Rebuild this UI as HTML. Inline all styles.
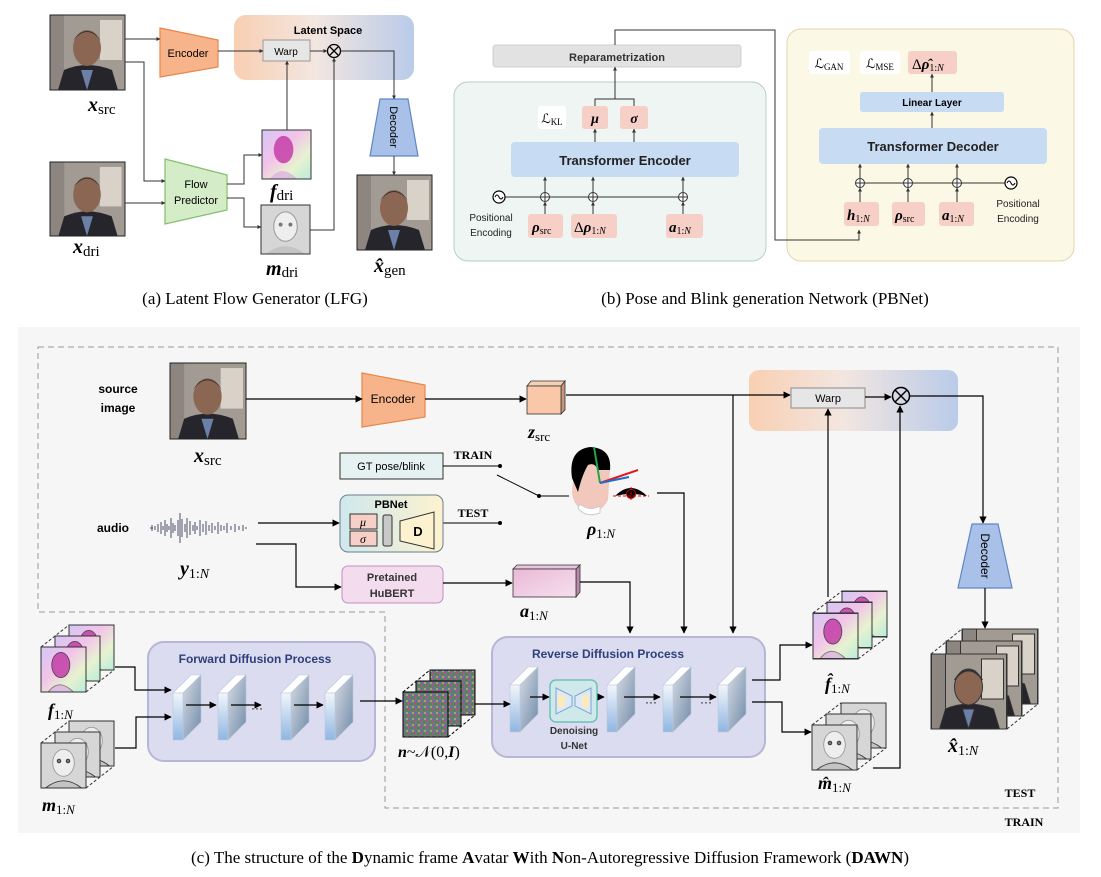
<!DOCTYPE html>
<html><head><meta charset="utf-8"><style>
html,body{margin:0;padding:0;background:#fff}
svg{display:block}
text{font-family:"Liberation Sans",sans-serif}
.s{font-family:"Liberation Serif",serif}
.b{font-weight:bold}
</style></head><body>
<svg width="1101" height="877" viewBox="0 0 1101 877" xmlns="http://www.w3.org/2000/svg">
<defs>
<marker id="a" viewBox="0 0 10 10" refX="9" refY="5" markerWidth="6" markerHeight="6" orient="auto"><path d="M0,0L10,5L0,10z" fill="#000"/></marker>
<marker id="as" viewBox="0 0 10 10" refX="9" refY="5" markerWidth="4" markerHeight="4" orient="auto"><path d="M0,0L10,5L0,10z" fill="#333"/></marker>
<linearGradient id="lat" x1="0" x2="1"><stop offset="0" stop-color="#f8cfb2"/><stop offset=".45" stop-color="#f3e6e0"/><stop offset="1" stop-color="#b9cbe9"/></linearGradient>
<linearGradient id="flow" x1="0" y1="0" x2="1" y2="1"><stop offset="0" stop-color="#d5c6f5"/><stop offset=".4" stop-color="#f2c3ea"/><stop offset=".7" stop-color="#e8f2d0"/><stop offset="1" stop-color="#b8ecd8"/></linearGradient>
<linearGradient id="pb" x1="0" x2="1"><stop offset="0" stop-color="#cfe8ee"/><stop offset="1" stop-color="#fdf2cf"/></linearGradient>
<linearGradient id="slf" x1="0" y1="0" x2="0" y2="1"><stop offset="0" stop-color="#f2f6fb"/><stop offset="1" stop-color="#8fb6e2"/></linearGradient>
<linearGradient id="sls" x1="0" y1="0" x2="1" y2="1"><stop offset="0" stop-color="#d8dce4"/><stop offset="1" stop-color="#6f8aa8"/></linearGradient>
<linearGradient id="acube" x1="0" x2="1" y1="0" y2="1"><stop offset="0" stop-color="#eab8d8"/><stop offset="1" stop-color="#f6e0ee"/></linearGradient>
<pattern id="noise" width="6" height="6" patternUnits="userSpaceOnUse"><rect width="6" height="6" fill="#6f7a6e"/><rect width="2" height="2" fill="#b0508a"/><rect x="3" y="1" width="2" height="2" fill="#3d8a5a"/><rect x="1" y="4" width="2" height="2" fill="#5f6fc0"/><rect x="4" y="4" width="2" height="2" fill="#a8a070"/></pattern>
<symbol id="photo" viewBox="0 0 75 75"><rect width="75" height="75" fill="#a29b93"/><rect x="50" y="5" width="22" height="40" fill="#d8d2c8"/><rect x="0" y="0" width="14" height="75" fill="#8d8680"/><path d="M8,75 L14,55 Q37,45 62,55 L68,75z" fill="#25252b"/><path d="M31,55 L37,75 L43,55z" fill="#6c7fa6"/><ellipse cx="37" cy="33" rx="14" ry="18" fill="#8b6753"/><path d="M23,26 Q37,8 51,26 Q45,16 37,16 Q29,16 23,26z" fill="#3a3431"/></symbol>
<symbol id="flw" viewBox="0 0 50 50"><rect width="50" height="50" fill="url(#flow)"/><ellipse cx="22" cy="20" rx="10" ry="14" fill="#c43ea8" opacity=".85"/><path d="M8,50 Q20,34 36,50z" fill="#d8a0e8" opacity=".6"/></symbol>
<symbol id="msk" viewBox="0 0 50 50"><rect width="50" height="50" fill="#d6d6d6"/><ellipse cx="25" cy="22" rx="12" ry="15" fill="#eee" stroke="#999" stroke-width="1"/><path d="M5,50 Q25,34 45,50z" fill="#c4c4c4"/><circle cx="20" cy="20" r="2" fill="#777"/><circle cx="30" cy="20" r="2" fill="#777"/></symbol>
</defs>

<!-- ================= (a) ================= -->
<rect x="234" y="15" width="180" height="65" rx="12" fill="url(#lat)"/>
<text x="328" y="34" font-size="11" class="b" text-anchor="middle">Latent Space</text>
<use href="#photo" x="50" y="15" width="75" height="75"/><rect x="50" y="15" width="75" height="75" fill="none" stroke="#222"/>
<text x="88" y="111" class="s" font-size="20"><tspan font-style="italic" font-weight="bold">x</tspan><tspan font-size="15" dy="3">src</tspan></text>
<use href="#photo" x="50" y="162" width="75" height="74"/><rect x="50" y="162" width="75" height="74" fill="none" stroke="#222"/>
<text x="73" y="253" class="s" font-size="20"><tspan font-style="italic" font-weight="bold">x</tspan><tspan font-size="15" dy="3">dri</tspan></text>
<use href="#photo" x="357" y="175" width="75" height="75"/><rect x="357" y="175" width="75" height="75" fill="none" stroke="#222"/>
<text x="374" y="272" class="s" font-size="20"><tspan font-style="italic" font-weight="bold">x̂</tspan><tspan font-size="15" dy="3">gen</tspan></text>
<polygon points="160,28 218,40 218,67 160,77" fill="#f7b48a" stroke="#e8864a" stroke-width="1.2"/>
<text x="188" y="57" font-size="11" text-anchor="middle">Encoder</text>
<polygon points="165,159 227,175 227,210 165,224" fill="#d5ecc9" stroke="#84bf6b" stroke-width="1.2"/>
<text x="196" y="188" font-size="11" text-anchor="middle">Flow</text><text x="196" y="204" font-size="11" text-anchor="middle">Predictor</text>
<rect x="263" y="40" width="47" height="21" fill="#e6e6e6" stroke="#999"/>
<text x="286" y="55" font-size="10" text-anchor="middle">Warp</text>
<circle cx="334" cy="51" r="6.5" fill="none" stroke="#000" stroke-width="1.3"/><path d="M329.5,46.5L338.5,55.5M338.5,46.5L329.5,55.5" stroke="#000" stroke-width="1.3"/>
<polygon points="380,99 408,99 418,156 370,156" fill="#a9c1e8" stroke="#5f86c8" stroke-width="1.2"/>
<text x="394" y="127" font-size="11" text-anchor="middle" transform="rotate(90 394 127)" dy="4">Decoder</text>
<use href="#flw" x="262" y="130" width="49" height="49"/><rect x="262" y="130" width="49" height="49" fill="none" stroke="#333"/>
<text x="270" y="198" class="s" font-size="20"><tspan font-style="italic" font-weight="bold">f</tspan><tspan font-size="15" dy="2">dri</tspan></text>
<use href="#msk" x="261" y="205" width="49" height="49"/><rect x="261" y="205" width="49" height="49" fill="none" stroke="#333"/>
<text x="266" y="275" class="s" font-size="20"><tspan font-style="italic" font-weight="bold">m</tspan><tspan font-size="15" dy="2">dri</tspan></text>
<g fill="none" stroke="#333" stroke-width="1" marker-end="url(#as)">
<path d="M125,39H160"/><path d="M125,62H144V181H165"/><path d="M125,203H165"/>
<path d="M218,51H263"/><path d="M310,51H327"/><path d="M340.5,51H394V99"/><path d="M394,156V175"/>
<path d="M227,184H244V155H262"/><path d="M227,198H244V227H261"/>
<path d="M287,130V61"/><path d="M310,230H334V58"/>
</g>
<text x="255" y="304" class="s" font-size="17" text-anchor="middle">(a) Latent Flow Generator (LFG)</text>

<!-- ================= (b) ================= -->
<rect x="454" y="82" width="312" height="179" rx="14" fill="#eef5f3" stroke="#b8cdc8"/>
<rect x="787" y="29" width="287" height="232" rx="14" fill="#fcf8e6" stroke="#e0d6ad"/>
<rect x="493" y="45" width="248" height="22" rx="3" fill="#e2e2e2" stroke="#cfcfcf"/>
<text x="617" y="61" font-size="11" text-anchor="middle" class="b" fill="#333">Reparametrization</text>
<rect x="538" y="106" width="28" height="23" rx="3" fill="#fff"/>
<text x="552" y="123" class="s" font-size="13" text-anchor="middle">ℒ<tspan font-size="9" dy="2">KL</tspan></text>
<rect x="582" y="106" width="26" height="23" rx="3" fill="#f6cfc7"/><text x="595" y="123" class="s" font-size="14" font-weight="bold" font-style="italic" text-anchor="middle">μ</text>
<rect x="620" y="106" width="28" height="23" rx="3" fill="#f6cfc7"/><text x="634" y="123" class="s" font-size="14" font-weight="bold" font-style="italic" text-anchor="middle">σ</text>
<rect x="511" y="142" width="228" height="35" rx="4" fill="#c7dbf2"/>
<text x="625" y="165" font-size="13" class="b" text-anchor="middle" fill="#222">Transformer Encoder</text>
<rect x="528" y="214" width="35" height="24" rx="3" fill="#f6cfc7"/><text x="532" y="232" class="s" font-size="15"><tspan font-weight="bold" font-style="italic">ρ</tspan><tspan font-size="10" dy="2">src</tspan></text>
<rect x="571" y="214" width="46" height="24" rx="3" fill="#f6cfc7"/><text x="574" y="232" class="s" font-size="15">Δ<tspan font-weight="bold" font-style="italic">ρ</tspan><tspan font-size="10" dy="2">1:<tspan font-style="italic">N</tspan></tspan></text>
<rect x="666" y="214" width="37" height="24" rx="3" fill="#f6cfc7"/><text x="669" y="232" class="s" font-size="15"><tspan font-weight="bold" font-style="italic">a</tspan><tspan font-size="10" dy="2">1:<tspan font-style="italic">N</tspan></tspan></text>
<text x="491" y="221" font-size="10" text-anchor="middle" fill="#222">Positional</text><text x="491" y="236" font-size="10" text-anchor="middle" fill="#222">Encoding</text>
<path d="M505,197H683" stroke="#333"/>
<circle cx="499" cy="197" r="6" fill="#fff" stroke="#000" stroke-width="1.2"/><path d="M495,197q2,-4 4,0t4,0" fill="none" stroke="#000"/>
<g fill="#fff" stroke="#333"><circle cx="545" cy="197" r="4.5"/><circle cx="593" cy="197" r="4.5"/><circle cx="683" cy="197" r="4.5"/></g>
<path d="M540.5,197h9M545,192.5v9M588.5,197h9M593,192.5v9M678.5,197h9M683,192.5v9" stroke="#333"/>
<g fill="none" stroke="#333" marker-end="url(#as)">
<path d="M545,214V202"/><path d="M593,214V202"/><path d="M683,214V202"/>
<path d="M545,192V177"/><path d="M593,192V177"/><path d="M683,192V177"/>
<path d="M595,142V129"/><path d="M634,142V129"/><path d="M615,99V67"/>
</g>
<path d="M595,106V99H634V106" fill="none" stroke="#333"/>
<path d="M615,45V30H775V240H859V230" fill="none" stroke="#333" marker-end="url(#as)"/>
<rect x="809" y="51" width="41" height="23" rx="3" fill="#fff"/><text x="829" y="68" class="s" font-size="13" text-anchor="middle">ℒ<tspan font-size="9" dy="2">GAN</tspan></text>
<rect x="860" y="51" width="40" height="23" rx="3" fill="#fff"/><text x="880" y="68" class="s" font-size="13" text-anchor="middle">ℒ<tspan font-size="9" dy="2">MSE</tspan></text>
<rect x="908" y="51" width="49" height="23" rx="3" fill="#f6cfc7"/><text x="912" y="69" class="s" font-size="15">Δ<tspan font-weight="bold" font-style="italic">ρ̂</tspan><tspan font-size="10" dy="2">1:<tspan font-style="italic">N</tspan></tspan></text>
<rect x="860" y="92" width="144" height="20" rx="3" fill="#c7dbf2"/><text x="932" y="106" font-size="10" class="b" text-anchor="middle">Linear Layer</text>
<rect x="819" y="128" width="228" height="36" rx="4" fill="#c7dbf2"/><text x="933" y="151" font-size="13" class="b" text-anchor="middle" fill="#222">Transformer Decoder</text>
<rect x="844" y="202" width="35" height="24" rx="3" fill="#f6cfc7"/><text x="847" y="220" class="s" font-size="15"><tspan font-weight="bold" font-style="italic">h</tspan><tspan font-size="10" dy="2">1:<tspan font-style="italic">N</tspan></tspan></text>
<rect x="892" y="202" width="33" height="24" rx="3" fill="#f6cfc7"/><text x="895" y="220" class="s" font-size="15"><tspan font-weight="bold" font-style="italic">ρ</tspan><tspan font-size="10" dy="2">src</tspan></text>
<rect x="939" y="202" width="35" height="24" rx="3" fill="#f6cfc7"/><text x="942" y="220" class="s" font-size="15"><tspan font-weight="bold" font-style="italic">a</tspan><tspan font-size="10" dy="2">1:<tspan font-style="italic">N</tspan></tspan></text>
<text x="1018" y="207" font-size="10" text-anchor="middle" fill="#222">Positional</text><text x="1018" y="222" font-size="10" text-anchor="middle" fill="#222">Encoding</text>
<path d="M860,183H1005" stroke="#333"/>
<circle cx="1011" cy="183" r="6" fill="#fff" stroke="#000" stroke-width="1.2"/><path d="M1007,183q2,-4 4,0t4,0" fill="none" stroke="#000"/>
<g fill="#fff" stroke="#333"><circle cx="860" cy="183" r="4.5"/><circle cx="908" cy="183" r="4.5"/><circle cx="957" cy="183" r="4.5"/></g>
<path d="M855.5,183h9M860,178.5v9M903.5,183h9M908,178.5v9M952.5,183h9M957,178.5v9" stroke="#333"/>
<g fill="none" stroke="#333" marker-end="url(#as)">
<path d="M860,202V188"/><path d="M908,202V188"/><path d="M957,202V188"/>
<path d="M860,178V164"/><path d="M908,178V164"/><path d="M957,178V164"/>
<path d="M932,128V112"/><path d="M932,92V74"/>
</g>
<text x="765" y="304" class="s" font-size="17" text-anchor="middle">(b) Pose and Blink generation Network (PBNet)</text>

<!-- ================= (c) ================= -->
<rect x="18" y="327" width="1062" height="506" fill="#f6f6f6"/>
<path d="M38,347H1058V808H385V612H38Z" fill="none" stroke="#999" stroke-dasharray="6,4"/>
<text x="1020" y="797" class="s b" font-size="12" text-anchor="middle">TEST</text>
<text x="1024" y="826" class="s b" font-size="12" text-anchor="middle">TRAIN</text>

<text x="118" y="393" font-size="12" class="b" text-anchor="middle">source</text>
<text x="118" y="412" font-size="12" class="b" text-anchor="middle">image</text>
<use href="#photo" x="170" y="363" width="76" height="76"/><rect x="170" y="363" width="76" height="76" fill="none" stroke="#222"/>
<text x="194" y="462" class="s" font-size="20"><tspan font-style="italic" font-weight="bold">x</tspan><tspan font-size="15" dy="3">src</tspan></text>
<polygon points="362,373 425,385 425,417 362,427" fill="#f7b48a" stroke="#e8864a" stroke-width="1.2"/>
<text x="393" y="403" font-size="12" text-anchor="middle">Encoder</text>
<polygon points="527,386 531,381 565,381 561,386" fill="#f6d0b4" stroke="#333" stroke-width=".8"/>
<polygon points="561,386 565,381 565,410 561,414" fill="#c89577" stroke="#333" stroke-width=".8"/>
<rect x="527" y="386" width="34" height="28" fill="#f8c8a8" stroke="#333" stroke-width=".8"/>
<text x="528" y="438" class="s" font-size="18"><tspan font-style="italic" font-weight="bold">z</tspan><tspan font-size="13" dy="3">src</tspan></text>

<rect x="749" y="370" width="209" height="61" rx="10" fill="url(#lat)"/>
<rect x="791" y="388" width="74" height="20" fill="#e6e6e6" stroke="#999" stroke-width="1.2"/>
<text x="828" y="402" font-size="11" text-anchor="middle">Warp</text>
<circle cx="901" cy="396" r="8.5" fill="none" stroke="#000" stroke-width="1.5"/><path d="M895,390L907,402M907,390L895,402" stroke="#000" stroke-width="1.5"/>
<polygon points="972,524 998,524 1012,588 958,588" fill="#a9c1e8" stroke="#5f86c8" stroke-width="1.2"/>
<text x="985" y="556" font-size="12" text-anchor="middle" transform="rotate(90 985 556)" dy="4">Decoder</text>

<!-- GT / PBNet / HuBERT -->
<rect x="340" y="453" width="103" height="26" fill="#e6f1f1" stroke="#333"/>
<text x="391" y="470" font-size="11" text-anchor="middle">GT pose/blink</text>
<text x="473" y="459" class="s b" font-size="12" text-anchor="middle">TRAIN</text>
<text x="473" y="517" class="s b" font-size="12" text-anchor="middle">TEST</text>
<path d="M443,466H500M443,523H500M497,475L539,496H569" stroke="#000" fill="none"/>
<circle cx="500" cy="466" r="2" /><circle cx="500" cy="523" r="2"/><circle cx="539" cy="496" r="2"/>
<rect x="340" y="495" width="103" height="57" rx="8" fill="url(#pb)" stroke="#6a7f8a"/>
<text x="391" y="508" font-size="11" class="b" text-anchor="middle">PBNet</text>
<rect x="350" y="514" width="27" height="15" fill="#f6cfc7" stroke="#333"/><text x="363" y="526" class="s" font-size="12" font-style="italic" text-anchor="middle">μ</text>
<rect x="350" y="531" width="27" height="15" fill="#f6cfc7" stroke="#333"/><text x="363" y="543" class="s" font-size="12" font-style="italic" text-anchor="middle">σ</text>
<rect x="383" y="515" width="9" height="31" rx="2" fill="#c8c8c8" stroke="#333"/>
<polygon points="400,521 434,512 434,549 400,541" fill="#fdf2cf" stroke="#333"/>
<text x="418" y="536" font-size="13" class="b" text-anchor="middle">D</text>
<rect x="342" y="566" width="101" height="37" rx="6" fill="#f4dcef" stroke="#c58ebd"/>
<text x="392" y="581" font-size="11" class="b" text-anchor="middle" fill="#333">Pretained</text>
<text x="392" y="597" font-size="11" class="b" text-anchor="middle" fill="#333">HuBERT</text>
<text x="113" y="532" font-size="12" class="b" text-anchor="middle">audio</text>
<path d="M150,528h3M152,525v6M155,526v4M158,524v8M161,522v12M163,526v4M165,520v16M167,524v8M169,526v4M171,518v20M173,523v10M175,525v6M178,520v16M180,513v30M182,519v18M185,524v8M187,518v20M190,521v14M193,525v6M195,522v12M197,526v4M200,520v16M203,524v8M206,521v14M209,525v6M212,523v10M215,526v4M218,522v12M221,525v6M224,526v4M227,523v10M231,526v4M235,524v8M239,526v4M243,525v6M246,527v2" stroke="#4a4f66" stroke-width="1"/>
<text x="180" y="575" class="s" font-size="20"><tspan font-style="italic" font-weight="bold">y</tspan><tspan font-size="14" dy="3">1:<tspan font-style="italic">N</tspan></tspan></text>
<!-- a cube -->
<polygon points="513,569 517,565 580,565 576,569" fill="#e8c5dd" stroke="#333" stroke-width=".8"/>
<polygon points="576,569 580,565 580,592 576,597" fill="#b88aa8" stroke="#333" stroke-width=".8"/>
<rect x="513" y="569" width="63" height="28" fill="url(#acube)" stroke="#333" stroke-width=".8"/>
<text x="520" y="617" class="s" font-size="18"><tspan font-style="italic" font-weight="bold">a</tspan><tspan font-size="13" dy="3">1:<tspan font-style="italic">N</tspan></tspan></text>
<!-- head -->
<path d="M575,468 Q572,448 590,448 Q610,448 610,470 L608,500 Q600,515 585,512 Q572,505 572,490z" fill="#f2c8bd"/>
<path d="M572,478 Q568,450 590,447 Q612,448 610,470 L598,470 Q595,462 588,465 Q582,475 578,492z" fill="#000"/>
<path d="M578,508 Q585,518 600,513 L600,506 Q590,512 580,504z" fill="#fff" stroke="#ccc"/>
<path d="M594,447L600,483" stroke="#22a447" stroke-width="2"/>
<path d="M600,483L638,470" stroke="#e8141c" stroke-width="2"/>
<path d="M600,483L629,477" stroke="#1a6fd0" stroke-width="2"/>
<path d="M615,496 Q631,480 647,496 Q631,492 615,496z" fill="#000"/>
<circle cx="631" cy="494" r="4.5" fill="#000" stroke="#c00"/>
<path d="M613,496H649M631,487V501" stroke="#e00" stroke-dasharray="3,2"/>
<text x="587" y="535" class="s" font-size="18"><tspan font-style="italic" font-weight="bold">ρ</tspan><tspan font-size="13" dy="3">1:<tspan font-style="italic">N</tspan></tspan></text>

<!-- bottom: forward -->
<rect x="148" y="642" width="227" height="119" rx="16" fill="#dcdcf0" stroke="#b6b6d8" stroke-width="2"/>
<text x="255" y="663" font-size="12" class="b" text-anchor="middle" fill="#2e3f7a">Forward Diffusion Process</text>
<rect x="492" y="637" width="273" height="120" rx="16" fill="#dcdcf0" stroke="#b6b6d8" stroke-width="2"/>
<text x="608" y="658" font-size="12" class="b" text-anchor="middle" fill="#2e3f7a">Reverse Diffusion Process</text>
<g stroke="#b8c8da" stroke-width=".6">
<g id="sl"><polygon points="173,693 183,693 201,675 191,675" fill="#fff"/><polygon points="183,693 201,675 201,722 183,740" fill="url(#sls)"/><rect x="173" y="693" width="10" height="47" fill="url(#slf)"/></g>
<use href="#sl" x="45"/><use href="#sl" x="108"/><use href="#sl" x="152"/>
<use href="#sl" x="337" y="-8"/><use href="#sl" x="434" y="-8"/><use href="#sl" x="490" y="-8"/><use href="#sl" x="545" y="-8"/>
</g>
<rect x="550" y="680" width="47" height="42" rx="6" fill="#cfe8ea" stroke="#6cc2b8" stroke-width="1.5"/>
<polygon points="556,688 572,696 572,706 556,714" fill="#dde9f6" stroke="#7da4cf"/><polygon points="591,688 575,696 575,706 591,714" fill="#dde9f6" stroke="#7da4cf"/>
<rect x="558" y="695" width="7" height="12" fill="#fdeab8"/><rect x="582" y="695" width="7" height="12" fill="#fdeab8"/>
<text x="574" y="734" font-size="10" class="b" text-anchor="middle" fill="#333">Denoising</text>
<text x="574" y="749" font-size="10" class="b" text-anchor="middle" fill="#333">U-Net</text>
<text x="251" y="712" font-size="12">···</text>
<text x="645" y="706" font-size="12">···</text><text x="700" y="706" font-size="12">···</text>
<!-- noise -->
<g stroke="#000" stroke-width="1">
<rect x="430" y="670" width="45" height="45" fill="url(#noise)"/>
<rect x="416" y="681" width="45" height="45" fill="url(#noise)"/>
<rect x="403" y="692" width="45" height="45" fill="url(#noise)"/>
<path d="M403,692L430,670M448,737L475,715" stroke-dasharray="3,2"/>
</g>
<text x="398" y="757" class="s" font-size="16"><tspan font-style="italic" font-weight="bold">n</tspan>~𝒩(0,<tspan font-style="italic" font-weight="bold">I</tspan>)</text>
<!-- stacks -->
<g stroke="#333" stroke-width="1">
<use href="#flw" x="69" y="625" width="45" height="45"/><rect x="69" y="625" width="45" height="45" fill="none"/>
<use href="#flw" x="55" y="636" width="45" height="45"/><rect x="55" y="636" width="45" height="45" fill="none"/>
<use href="#flw" x="41" y="647" width="45" height="45"/><rect x="41" y="647" width="45" height="45" fill="none"/>
<path d="M41,647L69,625M86,692L114,670" stroke-dasharray="3,2"/>
<use href="#msk" x="69" y="721" width="45" height="45"/><rect x="69" y="721" width="45" height="45" fill="none"/>
<use href="#msk" x="55" y="732" width="45" height="45"/><rect x="55" y="732" width="45" height="45" fill="none"/>
<use href="#msk" x="41" y="743" width="45" height="45"/><rect x="41" y="743" width="45" height="45" fill="none"/>
<path d="M41,743L69,721M86,788L114,766" stroke-dasharray="3,2"/>
<use href="#flw" x="842" y="591" width="45" height="46"/><rect x="842" y="591" width="45" height="46" fill="none"/>
<use href="#flw" x="827" y="602" width="45" height="46"/><rect x="827" y="602" width="45" height="46" fill="none"/>
<use href="#flw" x="813" y="613" width="45" height="46"/><rect x="813" y="613" width="45" height="46" fill="none"/>
<path d="M813,613L842,591M858,659L887,637" stroke-dasharray="3,2"/>
<use href="#msk" x="841" y="703" width="45" height="45"/><rect x="841" y="703" width="45" height="45" fill="none"/>
<use href="#msk" x="826" y="714" width="45" height="45"/><rect x="826" y="714" width="45" height="45" fill="none"/>
<use href="#msk" x="812" y="725" width="45" height="45"/><rect x="812" y="725" width="45" height="45" fill="none"/>
<path d="M812,725L841,703M857,770L886,748" stroke-dasharray="3,2"/>
<use href="#photo" x="962" y="629" width="76" height="75"/><rect x="962" y="629" width="76" height="75" fill="none"/>
<use href="#photo" x="946" y="641" width="76" height="75"/><rect x="946" y="641" width="76" height="75" fill="none"/>
<use href="#photo" x="931" y="654" width="76" height="75"/><rect x="931" y="654" width="76" height="75" fill="none"/>
<path d="M931,654L962,629M1007,729L1038,704" stroke-dasharray="3,2"/>
</g>
<text x="48" y="716" class="s" font-size="18"><tspan font-style="italic" font-weight="bold">f</tspan><tspan font-size="13" dy="3">1:<tspan font-style="italic">N</tspan></tspan></text>
<text x="42" y="811" class="s" font-size="18"><tspan font-style="italic" font-weight="bold">m</tspan><tspan font-size="13" dy="3">1:<tspan font-style="italic">N</tspan></tspan></text>
<text x="825" y="690" class="s" font-size="18"><tspan font-style="italic" font-weight="bold">f̂</tspan><tspan font-size="13" dy="3">1:<tspan font-style="italic">N</tspan></tspan></text>
<text x="818" y="789" class="s" font-size="18"><tspan font-style="italic" font-weight="bold">m̂</tspan><tspan font-size="13" dy="3">1:<tspan font-style="italic">N</tspan></tspan></text>
<text x="948" y="752" class="s" font-size="20"><tspan font-style="italic" font-weight="bold">x̂</tspan><tspan font-size="14" dy="3">1:<tspan font-style="italic">N</tspan></tspan></text>

<!-- connectors c -->
<g fill="none" stroke="#000" stroke-width="1.2" marker-end="url(#a)">
<path d="M246,399H362"/><path d="M425,399H526"/>
<path d="M566,395H790"/><path d="M733,395V633"/>
<path d="M865,397H891"/><path d="M910,396H983V523"/><path d="M985,588V628"/>
<path d="M828,597V409"/><path d="M873,768H900V406"/>
<path d="M258,523H339"/><path d="M256,544H296V587H341"/>
<path d="M443,583H512"/><path d="M580,582H630V633"/>
<path d="M657,493H684V633"/>
<path d="M115,667H135V690H171"/><path d="M115,748H136V717H171"/>
<path d="M186,705H216"/><path d="M231,705H261"/><path d="M294,705H323"/>
<path d="M360,701H402"/><path d="M475,704H510"/>
<path d="M530,697H549"/><path d="M598,697H604"/><path d="M624,697H660"/><path d="M680,697H716"/>
<path d="M752,680H780V645H812"/><path d="M752,702H782V732H811"/>
</g>
<text x="550" y="863" class="s" font-size="17" text-anchor="middle">(c) The structure of the <tspan font-weight="bold">D</tspan>ynamic frame <tspan font-weight="bold">A</tspan>vatar <tspan font-weight="bold">W</tspan>ith <tspan font-weight="bold">N</tspan>on-Autoregressive Diffusion Framework (<tspan font-weight="bold">DAWN</tspan>)</text>
</svg>
</body></html>
